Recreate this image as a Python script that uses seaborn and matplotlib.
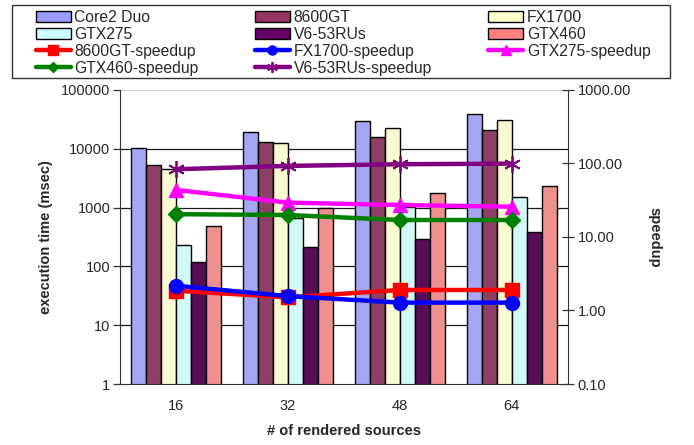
import numpy as np
import pandas as pd
import matplotlib
matplotlib.use("Agg")
import matplotlib.pyplot as plt
from matplotlib.patches import Patch, Rectangle
from matplotlib.ticker import FixedLocator, NullLocator, FixedFormatter
import seaborn as sns

# data
sources = ["16", "32", "48", "64"]
devices = ["Core2 Duo", "8600GT", "FX1700", "GTX275", "V6-53RUs", "GTX460"]
exec_core2 = [10100, 19600, 29700, 39500]
exec_8600gt = [5300, 13200, 15900, 21100]
exec_fx1700 = [4500, 12500, 22900, 30500]
exec_gtx275 = [231, 657, 1010, 1535]
exec_v6 = [120, 211, 297, 385]
exec_gtx460 = [492, 973, 1750, 2300]

speedup_names = ["8600GT-speedup", "FX1700-speedup", "GTX275-speedup",
                 "GTX460-speedup", "V6-53RUs-speedup"]
sp_8600gt = [1.86, 1.51, 1.90, 1.90]
sp_fx1700 = [2.17, 1.57, 1.28, 1.28]
sp_gtx275 = [43.6, 29.3, 27.2, 25.8]
sp_gtx460 = [20.4, 19.9, 17.0, 17.0]
sp_v6 = [83.4, 92.5, 97.5, 99.4]

bar_colors = ["#9999FF", "#993366", "#FFFFCC", "#CCFFFF", "#660066", "#FF8080"]
line_styles = [("#FF0000", "s"), ("#0000FF", "o"), ("#FF00FF", "^"),
               ("#008000", "D"), ("#800080", (6, 2, 0))]

sns.set_style("white")
plt.rcParams["font.family"] = ["Liberation Sans", "DejaVu Sans"]
plt.rcParams["font.size"] = 10

exec_vals = [exec_core2, exec_8600gt, exec_fx1700, exec_gtx275, exec_v6, exec_gtx460]
df = pd.DataFrame({
    "sources": np.repeat([sources], len(devices), axis=0).ravel(),
    "device": np.repeat(devices, len(sources)),
    "time": np.ravel(exec_vals),
})

fig = plt.figure(figsize=(6.94, 4.45), dpi=100)
ax = fig.add_axes([0.173, 0.137, 0.645, 0.661])

sns.barplot(data=df, x="sources", y="time", hue="device", hue_order=devices,
            palette=bar_colors, width=0.8, edgecolor="black", linewidth=1,
            legend=False, ax=ax, zorder=2)
ax.set_yscale("log")
ax.set_ylim(1, 100000)
ax.set_xlim(-0.5, 3.5)
ax.yaxis.set_major_locator(FixedLocator([1, 10, 100, 1000, 10000, 100000]))
ax.yaxis.set_major_formatter(FixedFormatter(["1", "10", "100", "1000", "10000", "100000"]))
ax.yaxis.set_minor_locator(NullLocator())
ax.grid(False)
for v in [10, 100, 1000, 10000]:
    ax.axhline(v, color="#1a1a1a", lw=0.9, zorder=0)
ax.axhline(100000, color="#d0d0d0", lw=0.9, zorder=0)

ax.set_xticks([0, 1, 2, 3])
ax.set_xticklabels(sources)
ax.tick_params(axis="x", length=0, pad=11, labelsize=10.5)
ax.set_xticks([-0.5, 0.5, 1.5, 2.5, 3.5], minor=True)
ax.tick_params(axis="x", which="minor", length=5, width=0.9, direction="out", color="#333333")
ax.tick_params(axis="y", length=5, width=0.9, direction="out", color="#333333", labelsize=10.5, pad=2)
for s in ["top", "right"]:
    ax.spines[s].set_visible(False)
ax.spines["left"].set_color("#333333")
ax.spines["bottom"].set_color("#333333")
ax.set_xlabel("# of rendered sources", fontweight="bold", fontsize=10.5, labelpad=8)
ax.set_ylabel("execution time (msec)", fontweight="bold", fontsize=10.5, labelpad=6)

ax2 = ax.twinx()
sp_vals = [sp_8600gt, sp_fx1700, sp_gtx275, sp_gtx460, sp_v6]
for name, vals, (c, m) in zip(speedup_names, sp_vals, line_styles):
    ms = 12 if m == (6, 2, 0) else (8.5 if m == "D" else 10)
    sns.lineplot(x=[0, 1, 2, 3], y=vals, ax=ax2, color=c, lw=3.2, marker=m,
                 markersize=ms, markeredgecolor=c, markeredgewidth=1.3 if m == (6, 2, 0) else 1,
                 label=name, legend=False, zorder=3)
ax2.set_yscale("log")
ax2.set_ylim(0.1, 1000)
ax2.set_xlim(-0.5, 3.5)
ax2.yaxis.set_major_locator(FixedLocator([0.1, 1, 10, 100, 1000]))
ax2.yaxis.set_major_formatter(FixedFormatter(["0.10", "1.00", "10.00", "100.00", "1000.00"]))
ax2.yaxis.set_minor_locator(NullLocator())
ax2.grid(False)
ax2.tick_params(axis="y", length=8, width=0.9, direction="inout", color="#333333", labelsize=10.5, pad=3)
for s in ["top", "left", "bottom"]:
    ax2.spines[s].set_visible(False)
ax2.spines["right"].set_color("#333333")
ax2.set_ylabel("speedup", fontweight="bold", fontsize=10.5, rotation=270, labelpad=22)

bar_handles = [Patch(facecolor=c, edgecolor="black", lw=1) for c in bar_colors]
line_handles = ax2.get_lines()[:5]
order = [(bar_handles[0], devices[0]), (bar_handles[3], devices[3]),
         (line_handles[0], speedup_names[0]), (line_handles[3], speedup_names[3]),
         (bar_handles[1], devices[1]), (bar_handles[4], devices[4]),
         (line_handles[1], speedup_names[1]), (line_handles[4], speedup_names[4]),
         (bar_handles[2], devices[2]), (bar_handles[5], devices[5]),
         (line_handles[2], speedup_names[2])]
fig.legend([h for h, _ in order], [l for _, l in order], ncol=3, frameon=False,
           loc="upper left", bbox_to_anchor=(25 / 694, 1 + 1 / 445),
           handlelength=2.2, handleheight=0.7, handletextpad=0.25, markerscale=0.65,
           labelspacing=0.12, columnspacing=3.6, fontsize=11.3, borderpad=0.2)
fig.patches.append(Rectangle((12 / 694, 1 - 78 / 445), 658 / 694, 73 / 445,
                             transform=fig.transFigure, fill=False,
                             edgecolor="#333333", lw=1))

fig.savefig("out.png", dpi=100)
